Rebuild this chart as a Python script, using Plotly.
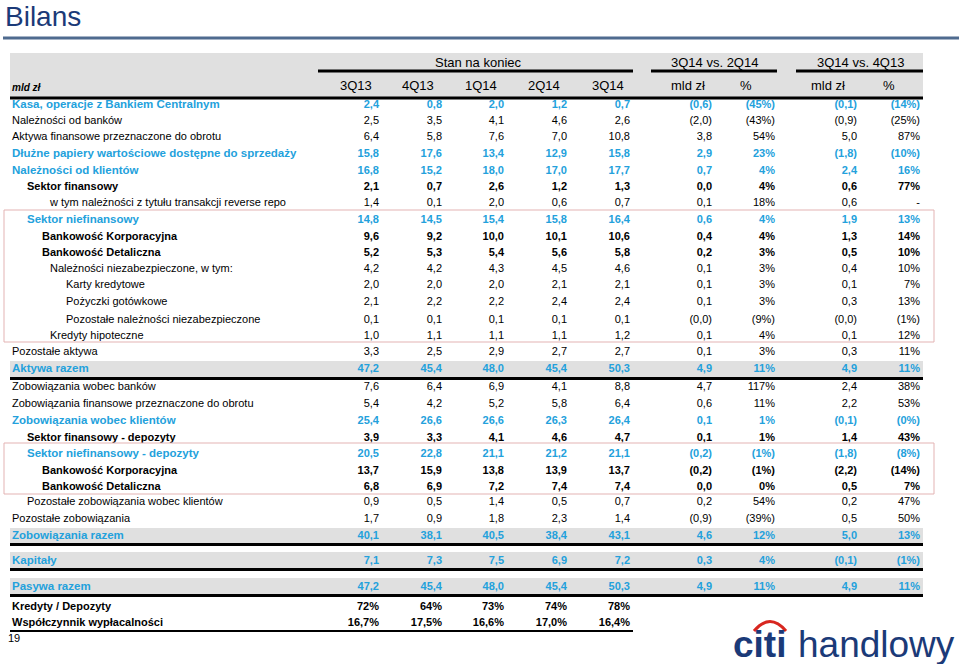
import plotly.graph_objects as go

# ---------------- data ----------------
labels = [
    "Kasa, operacje z Bankiem Centralnym",
    "Należności od banków",
    "Aktywa finansowe przeznaczone do obrotu",
    "Dłużne papiery wartościowe dostępne do sprzedaży",
    "Należności od klientów",
    "Sektor finansowy",
    "w tym należności z tytułu transakcji reverse repo",
    "Sektor niefinansowy",
    "Bankowość Korporacyjna",
    "Bankowość Detaliczna",
    "Należności niezabezpieczone, w tym:",
    "Karty kredytowe",
    "Pożyczki gotówkowe",
    "Pozostałe należności niezabezpieczone",
    "Kredyty hipoteczne",
    "Pozostałe aktywa",
    "Aktywa razem",
    "Zobowiązania wobec banków",
    "Zobowiązania finansowe przeznaczone do obrotu",
    "Zobowiązania wobec klientów",
    "Sektor finansowy - depozyty",
    "Sektor niefinansowy - depozyty",
    "Bankowość Korporacyjna",
    "Bankowość Detaliczna",
    "Pozostałe zobowiązania wobec klientów",
    "Pozostałe zobowiązania",
    "Zobowiązania razem",
    "Kapitały",
    "Pasywa razem",
    "Kredyty / Depozyty",
    "Współczynnik wypłacalności",
]

q3_13 = ["2,4", "2,5", "6,4", "15,8", "16,8", "2,1", "1,4", "14,8", "9,6", "5,2", "4,2", "2,0", "2,1", "0,1", "1,0",
         "3,3", "47,2", "7,6", "5,4", "25,4", "3,9", "20,5", "13,7", "6,8", "0,9", "1,7", "40,1", "7,1", "47,2", "72%", "16,7%"]
q4_13 = ["0,8", "3,5", "5,8", "17,6", "15,2", "0,7", "0,1", "14,5", "9,2", "5,3", "4,2", "2,0", "2,2", "0,1", "1,1",
         "2,5", "45,4", "6,4", "4,2", "26,6", "3,3", "22,8", "15,9", "6,9", "0,5", "0,9", "38,1", "7,3", "45,4", "64%", "17,5%"]
q1_14 = ["2,0", "4,1", "7,6", "13,4", "18,0", "2,6", "2,0", "15,4", "10,0", "5,4", "4,3", "2,0", "2,2", "0,1", "1,1",
         "2,9", "48,0", "6,9", "5,2", "26,6", "4,1", "21,1", "13,8", "7,2", "1,4", "1,8", "40,5", "7,5", "48,0", "73%", "16,6%"]
q2_14 = ["1,2", "4,6", "7,0", "12,9", "17,0", "1,2", "0,6", "15,8", "10,1", "5,6", "4,5", "2,1", "2,4", "0,1", "1,1",
         "2,7", "45,4", "4,1", "5,8", "26,3", "4,6", "21,2", "13,9", "7,4", "0,5", "2,3", "38,4", "6,9", "45,4", "74%", "17,0%"]
q3_14 = ["0,7", "2,6", "10,8", "15,8", "17,7", "1,3", "0,7", "16,4", "10,6", "5,8", "4,6", "2,1", "2,4", "0,1", "1,2",
         "2,7", "50,3", "8,8", "6,4", "26,4", "4,7", "21,1", "13,7", "7,4", "0,7", "1,4", "43,1", "7,2", "50,3", "78%", "16,4%"]
qoq_abs = ["(0,6)", "(2,0)", "3,8", "2,9", "0,7", "0,0", "0,1", "0,6", "0,4", "0,2", "0,1", "0,1", "0,1", "(0,0)", "0,1",
           "0,1", "4,9", "4,7", "0,6", "0,1", "0,1", "(0,2)", "(0,2)", "0,0", "0,2", "(0,9)", "4,6", "0,3", "4,9", "", ""]
qoq_pct = ["(45%)", "(43%)", "54%", "23%", "4%", "4%", "18%", "4%", "4%", "3%", "3%", "3%", "3%", "(9%)", "4%",
           "3%", "11%", "117%", "11%", "1%", "1%", "(1%)", "(1%)", "0%", "54%", "(39%)", "12%", "4%", "11%", "", ""]
ytd_abs = ["(0,1)", "(0,9)", "5,0", "(1,8)", "2,4", "0,6", "0,6", "1,9", "1,3", "0,5", "0,4", "0,1", "0,3", "(0,0)", "0,1",
           "0,3", "4,9", "2,4", "2,2", "(0,1)", "1,4", "(1,8)", "(2,2)", "0,5", "0,2", "0,5", "5,0", "(0,1)", "4,9", "", ""]
ytd_pct = ["(14%)", "(25%)", "87%", "(10%)", "16%", "77%", "-", "13%", "14%", "10%", "10%", "7%", "13%", "(1%)", "12%",
           "11%", "11%", "38%", "53%", "(0%)", "43%", "(8%)", "(14%)", "7%", "47%", "50%", "13%", "(1%)", "11%", "", ""]

col_headers = ["3Q13", "4Q13", "1Q14", "2Q14", "3Q14", "mld zł", "%", "mld zł", "%"]
group_headers = ["Stan na koniec", "3Q14 vs. 2Q14", "3Q14 vs. 4Q13"]

# ---------------- styling / layout ----------------
# row kind: "B" = blue bold, "K" = black bold, "N" = normal black
row_kind = ["B", "N", "N", "B", "B", "K", "N", "B", "K", "K", "N", "N", "N", "N", "N",
            "N", "B", "N", "N", "B", "K", "B", "K", "K", "N", "N", "B", "B", "B", "K", "K"]
row_level = [0, 0, 0, 0, 0, 1, 3, 1, 2, 2, 3, 4, 4, 4, 3,
             0, 0, 0, 0, 0, 1, 1, 2, 2, 1, 0, 0, 0, 0, 0, 0]
level_x = {0: 12, 1: 27, 2: 42, 3: 50, 4: 66}
row_y = [105, 121, 137, 154, 171, 187, 203, 220, 237, 253, 269, 285, 302, 320, 336,
         352, 369, 387, 404, 421, 438, 454, 471, 487, 502, 519, 536, 561, 587, 607, 623]
col_right = [379, 442, 504, 567, 630, 712, 775, 857, 920]
col_center = [356, 418, 481, 544, 608, 688, 746, 828, 889]

BLUE = "#23a1dc"
DARK = "#1b3a78"
FONT = "Liberation Sans, Arial, sans-serif"

columns = [q3_13, q4_13, q1_14, q2_14, q3_14, qoq_abs, qoq_pct, ytd_abs, ytd_pct]


def fmt(s, kind):
    return "<b>%s</b>" % s if kind in ("B", "K") and s else s


colors = [BLUE if k == "B" else "black" for k in row_kind]
sizes = [11.5 if k == "B" else 11 for k in row_kind]

fig = go.Figure()

# row labels
fig.add_trace(go.Scatter(
    x=[level_x[l] for l in row_level], y=row_y, mode="text",
    text=[fmt(t, k) for t, k in zip(labels, row_kind)],
    textposition="middle right",
    textfont=dict(family=FONT, size=sizes, color=colors),
    hoverinfo="skip", showlegend=False,
))

# value columns
for cx, col in zip(col_right, columns):
    fig.add_trace(go.Scatter(
        x=[cx] * len(col), y=row_y, mode="text",
        text=[fmt(v, k) for v, k in zip(col, row_kind)],
        textposition="middle left",
        textfont=dict(family=FONT, size=11, color=colors),
        hoverinfo="skip", showlegend=False,
    ))

shapes = []
# title rule
shapes.append(dict(type="line", x0=3, x1=959, y0=38, y1=38, line=dict(color="#4f6b8f", width=3)))
# header band
shapes.append(dict(type="rect", x0=10, x1=923, y0=53, y1=97, fillcolor="#e0e0e0", line=dict(width=0), layer="below"))
# gray total bands
for y0, y1 in [(361, 377), (528, 543), (552, 568), (578, 594)]:
    shapes.append(dict(type="rect", x0=10, x1=923, y0=y0, y1=y1, fillcolor="#e0e0e0", line=dict(width=0), layer="below"))
# thick black rules
for y in [98, 378.5, 544.5, 569.5, 595.5]:
    shapes.append(dict(type="line", x0=10, x1=923, y0=y, y1=y, line=dict(color="black", width=3)))
# group underlines
for x0, x1 in [(318, 633), (651, 777), (796, 923)]:
    shapes.append(dict(type="line", x0=x0, x1=x1, y0=71, y1=71, line=dict(color="black", width=3)))
# bottom rule under ratios
shapes.append(dict(type="line", x0=10, x1=633, y0=631, y1=631, line=dict(color="black", width=2)))
# pink boxes
for y0, y1 in [(210, 342), (443, 494)]:
    shapes.append(dict(type="rect", x0=4, x1=934, y0=y0, y1=y1, line=dict(color="#e3b3b3", width=1)))
# logo arc
shapes.append(dict(type="path", path="M 754 631 Q 770 612 786 631", line=dict(color="#d8261f", width=3)))

annotations = []
annotations.append(dict(x=3, y=16, text="Bilans", showarrow=False, xanchor="left", yanchor="middle",
                        font=dict(family=FONT, size=28, color=DARK)))
for gx, g in zip([478, 714, 860], group_headers):
    annotations.append(dict(x=gx, y=62, text=g, showarrow=False, xanchor="center", yanchor="middle",
                            font=dict(family=FONT, size=13, color="black")))
for cx, h in zip(col_center, col_headers):
    annotations.append(dict(x=cx, y=85, text=h, showarrow=False, xanchor="center", yanchor="middle",
                            font=dict(family=FONT, size=13, color="black")))
annotations.append(dict(x=10, y=87, text="<b><i>mld zł</i></b>", showarrow=False, xanchor="left", yanchor="middle",
                        font=dict(family=FONT, size=10, color="black")))
annotations.append(dict(x=6, y=638, text="19", showarrow=False, xanchor="left", yanchor="middle",
                        font=dict(family=FONT, size=11, color="black")))
annotations.append(dict(x=731, y=644, text="<b>citi</b>", showarrow=False, xanchor="left", yanchor="middle",
                        font=dict(family=FONT, size=37, color=DARK)))
annotations.append(dict(x=796, y=644, text="handlowy", showarrow=False, xanchor="left", yanchor="middle",
                        font=dict(family=FONT, size=37, color=DARK)))

fig.update_layout(
    width=959, height=664,
    margin=dict(l=0, r=0, t=0, b=0),
    paper_bgcolor="white", plot_bgcolor="white",
    xaxis=dict(range=[0, 959], visible=False, fixedrange=True),
    yaxis=dict(range=[664, 0], visible=False, fixedrange=True),
    shapes=shapes, annotations=annotations,
    showlegend=False,
)

fig.write_html(
    "out.html",
    config={"displayModeBar": False},
    post_script="document.body.style.margin='0px';document.body.style.overflow='hidden';",
)
